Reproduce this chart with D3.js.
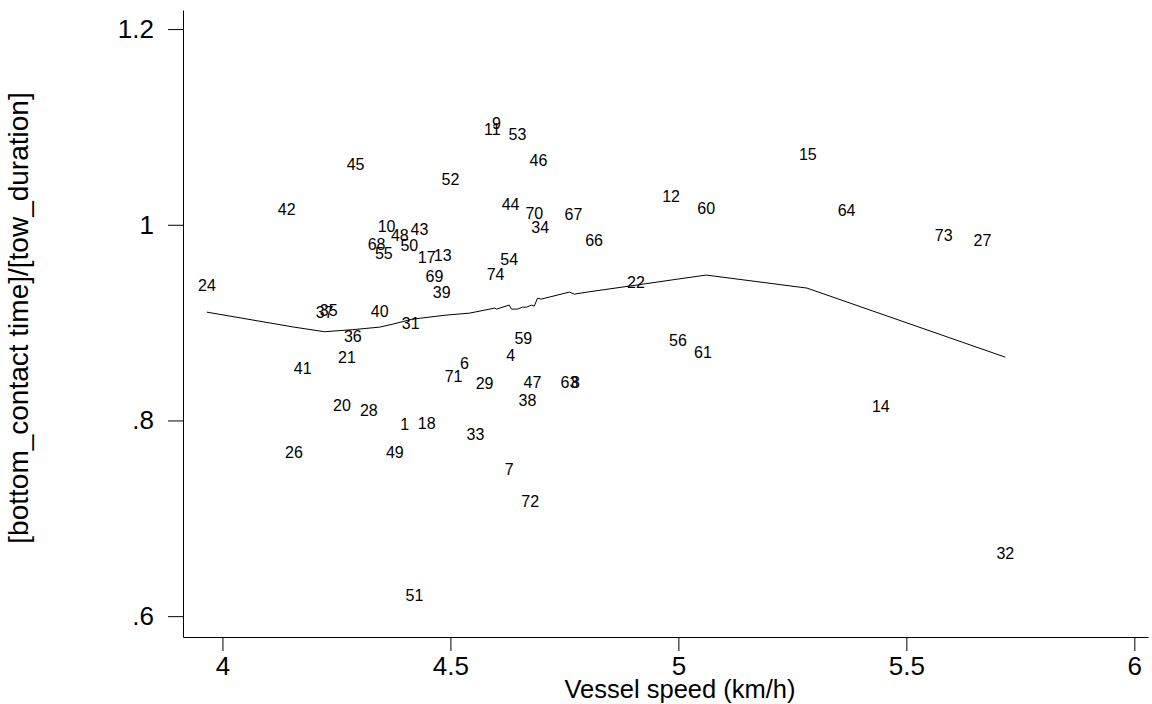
<!DOCTYPE html>
<html>
<head>
<meta charset="utf-8">
<script src="https://cdn.jsdelivr.net/npm/d3@7"></script>
<style>
  body { margin: 0; background: #fff; }
  svg { font-family: "Liberation Sans", Arial, sans-serif; }
</style>
</head>
<body>
<div id="chart"></div>
<script>
// tow id, vessel speed (km/h), bottom contact ratio
var ids   = [1, 4, 6, 7, 8, 9, 10, 11, 12, 13, 14, 15, 17, 18, 20, 21, 22, 24, 26, 27,
             28, 29, 31, 32, 33, 34, 35, 36, 37, 38, 39, 40, 41, 42, 43, 44, 45, 46, 47, 48,
             49, 50, 51, 52, 53, 54, 55, 56, 59, 60, 61, 63, 64, 66, 67, 68, 69, 70, 71, 72,
             73, 74];
var speed = [4.400, 4.632, 4.531, 4.629, 4.774, 4.601, 4.360, 4.592, 4.984, 4.483, 5.444, 5.284, 4.448, 4.448, 4.262, 4.273, 4.907, 3.966, 4.157, 5.667,
             4.321, 4.575, 4.413, 5.717, 4.555, 4.697, 4.233, 4.286, 4.224, 4.669, 4.481, 4.345, 4.176, 4.141, 4.432, 4.632, 4.292, 4.693, 4.680, 4.389,
             4.378, 4.410, 4.421, 4.500, 4.647, 4.629, 4.354, 4.999, 4.660, 5.061, 5.054, 4.761, 5.369, 4.815, 4.770, 4.338, 4.465, 4.684, 4.507, 4.675,
             5.582, 4.599];
var ratio = [0.796, 0.867, 0.858, 0.750, 0.839, 1.104, 0.999, 1.098, 1.029, 0.969, 0.815, 1.072, 0.967, 0.797, 0.816, 0.865, 0.941, 0.938, 0.768, 0.984,
             0.810, 0.838, 0.899, 0.664, 0.786, 0.997, 0.913, 0.886, 0.911, 0.821, 0.931, 0.912, 0.853, 1.016, 0.995, 1.021, 1.062, 1.066, 0.839, 0.989,
             0.768, 0.979, 0.621, 1.047, 1.093, 0.965, 0.971, 0.882, 0.884, 1.017, 0.870, 0.839, 1.015, 0.984, 1.011, 0.980, 0.947, 1.012, 0.845, 0.717,
             0.989, 0.949];

// lowess smooth
var lowessX = [3.966, 4.157, 4.224, 4.286, 4.345, 4.374, 4.417, 4.491, 4.542, 4.597, 4.601, 4.629, 4.634, 4.647, 4.658,
               4.667, 4.678, 4.684, 4.691, 4.699, 4.761, 4.772, 4.800, 4.907, 4.999, 5.061, 5.282, 5.717];
var lowessY = [0.9107, 0.8954, 0.8907, 0.8928, 0.8954, 0.8985, 0.9036, 0.9077, 0.9097, 0.9148, 0.9138, 0.9179, 0.9138, 0.9138, 0.9158,
               0.9158, 0.9179, 0.9169, 0.9250, 0.9240, 0.9312, 0.9291, 0.9312, 0.9383, 0.9445, 0.9486, 0.9353, 0.8647];

var xTicks = [4, 4.5, 5, 5.5, 6];
var yTicks = [0.6, 0.8, 1, 1.2];
var yTickLabels = [".6", ".8", "1", "1.2"];

var width = 1152, height = 704;
var margin = {top: 10, right: 4, bottom: 67, left: 183};

var svg = d3.select("#chart").append("svg")
    .attr("width", width)
    .attr("height", height);

var xScale = d3.scaleLinear()
    .domain([3.9135, 6.030])
    .range([margin.left, width - margin.right]);
var yScale = d3.scaleLinear()
    .domain([0.5787, 1.2195])
    .range([height - margin.bottom, margin.top]);

svg.append("g")
    .attr("transform", "translate(0," + (height - margin.bottom) + ")")
    .call(d3.axisBottom(xScale).tickValues(xTicks).tickSizeInner(14).tickSizeOuter(0).tickPadding(6)
          .tickFormat(function(d){ return String(d); }));

svg.append("g")
    .attr("transform", "translate(" + margin.left + ",0)")
    .call(d3.axisLeft(yScale).tickValues(yTicks).tickSizeInner(15).tickSizeOuter(0).tickPadding(14)
          .tickFormat(function(d, i){ return yTickLabels[i]; }));

svg.selectAll(".domain, .tick line").attr("stroke", "#000").attr("stroke-width", 1);
svg.selectAll(".tick text").attr("fill", "#000").style("font-size", "26px")
   .style("font-family", '"Liberation Sans", Arial, sans-serif');

// lowess line
var pts = lowessX.map(function(x, i){ return [x, lowessY[i]]; });
svg.append("path")
   .datum(pts)
   .attr("fill", "none")
   .attr("stroke", "#000")
   .attr("stroke-width", 1)
   .attr("d", d3.line().x(function(d){ return xScale(d[0]); }).y(function(d){ return yScale(d[1]); }));

// marker labels, centred on the points
var points = ids.map(function(id, i){ return {id: id, x: speed[i], y: ratio[i]}; });
svg.selectAll("text.lab")
   .data(points)
   .enter()
   .append("text")
   .attr("class", "lab")
   .attr("x", function(d){ return xScale(d.x); })
   .attr("y", function(d){ return yScale(d.y); })
   .attr("dy", "0.36em")
   .attr("text-anchor", "middle")
   .style("font-size", "16px")
   .attr("fill", "#000")
   .text(function(d){ return d.id; });

// axis titles
svg.append("text")
   .attr("x", 680)
   .attr("y", 698)
   .attr("text-anchor", "middle")
   .style("font-size", "25.5px")
   .text("Vessel speed (km/h)");

svg.append("text")
   .attr("transform", "translate(28," + 318 + ") rotate(-90)")
   .attr("text-anchor", "middle")
   .style("font-size", "28px")
   .text("[bottom_contact time]/[tow_duration]");
</script>
</body>
</html>
